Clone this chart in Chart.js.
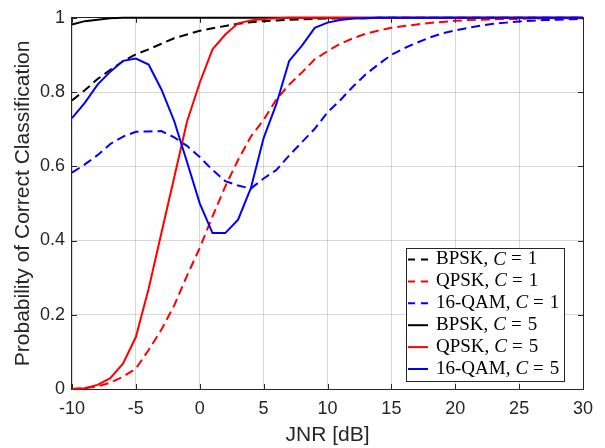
<!DOCTYPE html>
<html>
<head>
<meta charset="utf-8">
<script src="https://cdn.jsdelivr.net/npm/chart.js@4"></script>
<style>
html, body { margin: 0; padding: 0; background: #fff; }
#wrap { width: 605px; height: 448px; }
</style>
</head>
<body>
<div id="wrap"><canvas id="c" width="605" height="448"></canvas></div>
<script>
// JNR axis in dB, one point per dB
const jnr = [-10,-9,-8,-7,-6,-5,-4,-3,-2,-1,
             0,1,2,3,4,5,6,7,8,9,
             10,11,12,13,14,15,16,17,18,19,
             20,21,22,23,24,25,26,27,28,29,
             30];

// C = 1 curves (dashed)
const bpskC1 = [0.777,0.805,0.835,0.86,0.883,0.902,0.915,0.93,0.945,0.955,
                0.965,0.972,0.978,0.984,0.988,0.991,0.993,0.995,0.996,0.997,
                0.998,0.998,0.999,0.999,1,1,1,1,1,1,
                1,1,1,1,1,1,1,1,1,1,
                1];
const qpskC1 = [0,0.002,0.007,0.017,0.033,0.055,0.105,0.16,0.225,0.305,
                0.38,0.465,0.546,0.617,0.68,0.725,0.78,0.82,0.853,0.888,
                0.91,0.93,0.945,0.957,0.966,0.973,0.978,0.982,0.986,0.989,
                0.992,0.994,0.995,0.996,0.997,0.997,0.998,0.998,0.999,0.999,
                0.999];
const qamC1 = [0.583,0.605,0.63,0.66,0.68,0.693,0.694,0.695,0.678,0.655,
               0.625,0.59,0.56,0.548,0.54,0.567,0.59,0.629,0.665,0.701,
               0.745,0.778,0.815,0.848,0.875,0.9,0.918,0.933,0.947,0.958,
               0.966,0.973,0.979,0.984,0.987,0.99,0.992,0.994,0.995,0.996,
               0.997];

// C = 5 curves (solid)
const bpskC5 = [0.982,0.991,0.995,0.999,1,1,1,1,1,1,
                1,1,1,1,1,1,1,1,1,1,
                1,1,1,1,1,1,1,1,1,1,
                1,1,1,1,1,1,1,1,1,1,
                1];
const qpskC5 = [0,0.002,0.011,0.029,0.069,0.14,0.27,0.42,0.57,0.72,
                0.825,0.915,0.955,0.985,0.993,0.997,0.999,1,1,1,
                1,1,1,1,1,1,1,1,1,1,
                1,1,1,1,1,1,1,1,1,1,
                1];
const qamC5 = [0.73,0.771,0.82,0.855,0.884,0.89,0.874,0.807,0.722,0.612,
               0.5,0.42,0.42,0.456,0.541,0.676,0.768,0.884,0.925,0.973,
               0.987,0.994,0.998,0.999,1,1,1,1,1,1,
               1,1,1,1,1,1,1,1,1,1,
               1];

const names = ['BPSK','QPSK','16-QAM','BPSK','QPSK','16-QAM'];
const cValues = [1,1,1,5,5,5];
const series = [bpskC1, qpskC1, qamC1, bpskC5, qpskC5, qamC5];
const colors = ['#000000','#ff0000','#0000ff','#000000','#ff0000','#0000ff'];

const xTicks = [-10,-5,0,5,10,15,20,25,30];
const yTicks = [0,0.2,0.4,0.6,0.8,1];
const yTickLabels = ['0','0.2','0.4','0.6','0.8','1'];

const axisColor = '#262626';
const sans = '"Liberation Sans", Arial, sans-serif';
const serif = '"Liberation Serif", "Times New Roman", serif';

const datasets = series.map((vals, i) => ({
  label: names[i] + ', C = ' + cValues[i],
  data: vals.map((v, k) => ({x: jnr[k], y: v})),
  borderColor: colors[i],
  backgroundColor: colors[i],
  borderWidth: 2,
  borderDash: cValues[i] === 1 ? [9, 5] : [],
  pointRadius: 0,
  tension: 0,
  fill: false,
  clip: false,
  order: 5 - i
}));

// box round the axes, with inward ticks like MATLAB
const frame = {
  id: 'frame',
  beforeDatasetsDraw(chart) {
    const {ctx, chartArea: a, scales} = chart;
    ctx.save();
    ctx.strokeStyle = axisColor;
    ctx.lineWidth = 1;
    ctx.beginPath();
    xTicks.forEach(v => {
      const px = Math.round(scales.x.getPixelForValue(v)) + 0.5;
      ctx.moveTo(px, a.bottom); ctx.lineTo(px, a.bottom - 5);
      ctx.moveTo(px, a.top); ctx.lineTo(px, a.top + 5);
    });
    yTicks.forEach(v => {
      const py = Math.round(scales.y.getPixelForValue(v)) + 0.5;
      ctx.moveTo(a.left, py); ctx.lineTo(a.left + 5, py);
      ctx.moveTo(a.right, py); ctx.lineTo(a.right - 5, py);
    });
    ctx.stroke();
    ctx.strokeRect(Math.round(a.left) - 0.5, Math.round(a.top) - 0.5,
                   Math.round(a.right - a.left) + 1, Math.round(a.bottom - a.top) + 1);
    ctx.restore();
  }
};

// legend box in the lower right corner, C in italics
const legendBox = {
  id: 'legendBox',
  afterDatasetsDraw(chart) {
    const {ctx, chartArea: a} = chart;
    const w = 158, h = 133;
    const x0 = Math.round(a.right - 19 - w), y0 = Math.round(a.bottom - 8 - h);
    ctx.save();
    ctx.fillStyle = '#fff';
    ctx.fillRect(x0, y0, w, h);
    ctx.strokeStyle = axisColor;
    ctx.lineWidth = 1;
    ctx.strokeRect(x0 + 0.5, y0 + 0.5, w, h);
    chart.data.datasets.forEach((ds, i) => {
      const yy = y0 + 11.5 + i * 21.9;
      ctx.strokeStyle = ds.borderColor;
      ctx.lineWidth = 2;
      ctx.setLineDash(ds.borderDash.length ? [7, 6] : []);
      ctx.beginPath();
      ctx.moveTo(x0 + 2, yy);
      ctx.lineTo(x0 + 22, yy);
      ctx.stroke();
      ctx.setLineDash([]);
      ctx.fillStyle = '#000';
      ctx.textBaseline = 'middle';
      ctx.textAlign = 'left';
      let x = x0 + 30;
      ctx.font = '19px ' + serif;
      const head = names[i] + ',';
      ctx.fillText(head, x, yy);
      x += ctx.measureText(head).width + 5;
      ctx.font = 'italic 19px ' + serif;
      ctx.fillText('C', x, yy);
      x += ctx.measureText('C').width + 5;
      ctx.font = '19px ' + serif;
      ctx.fillText('=', x, yy);
      x += ctx.measureText('=').width + 6;
      ctx.fillText(String(cValues[i]), x, yy);
    });
    ctx.restore();
  }
};

new Chart(document.getElementById('c').getContext('2d'), {
  type: 'line',
  data: { datasets: datasets },
  options: {
    responsive: false,
    animation: false,
    devicePixelRatio: 1,
    layout: { padding: { left: 0, right: 22, top: 15, bottom: 0 } },
    plugins: { legend: { display: false }, tooltip: { enabled: false } },
    scales: {
      x: {
        type: 'linear',
        min: -10, max: 30,
        afterBuildTicks: s => { s.ticks = xTicks.map(v => ({value: v})); },
        afterFit: s => { s.height = 59; },
        ticks: { color: axisColor, font: { family: sans, size: 18 }, padding: 9, maxRotation: 0,
                 callback: v => String(v) },
        grid: { color: 'rgba(38,38,38,0.18)', drawTicks: false },
        border: { display: false },
        title: { display: true, text: 'JNR [dB]', color: axisColor,
                 font: { family: sans, size: 21 }, padding: { top: 0, bottom: 0 } }
      },
      y: {
        type: 'linear',
        min: 0, max: 1,
        afterBuildTicks: s => { s.ticks = yTicks.map(v => ({value: v})); },
        afterFit: s => { s.width = 72; },
        ticks: { color: axisColor, font: { family: sans, size: 18 }, padding: 7,
                 callback: (v, i) => yTickLabels[i] },
        grid: { color: 'rgba(38,38,38,0.18)', drawTicks: false },
        border: { display: false },
        title: { display: true, text: 'Probability of Correct Classification', color: axisColor,
                 font: { family: sans, size: 21 }, padding: { top: 11, bottom: 0 } }
      }
    }
  },
  plugins: [frame, legendBox]
});
</script>
</body>
</html>
